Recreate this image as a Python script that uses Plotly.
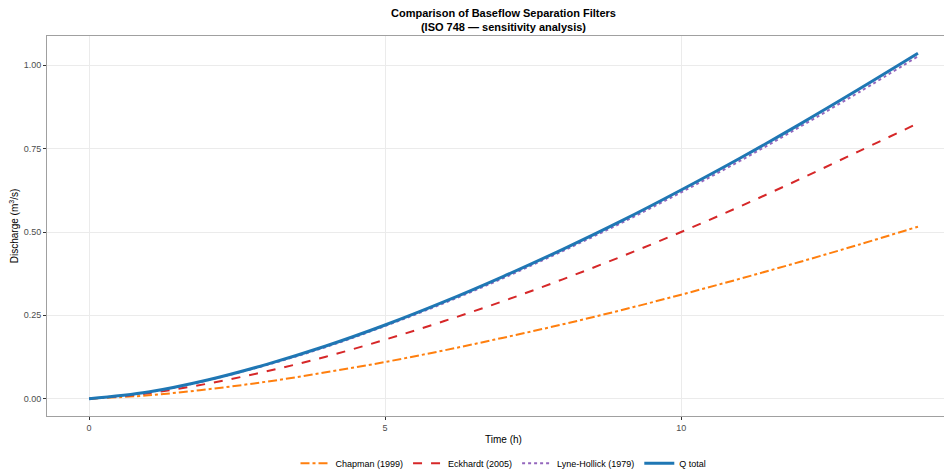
import plotly.graph_objects as go

time_h = [0, 1, 2, 3, 4, 5, 6, 7, 8, 9, 10, 11, 12, 13, 14]
q_total = [0.0, 0.020, 0.056, 0.103, 0.158, 0.221, 0.291, 0.367, 0.448, 0.534, 0.626, 0.722, 0.823, 0.928, 1.036]
chapman = [0.0, 0.010, 0.028, 0.051, 0.079, 0.110, 0.145, 0.183, 0.223, 0.266, 0.312, 0.360, 0.410, 0.462, 0.516]
eckhardt = [0.0, 0.016, 0.045, 0.082, 0.126, 0.177, 0.233, 0.293, 0.358, 0.427, 0.500, 0.577, 0.658, 0.742, 0.826]
lyne_hollick = [0.0, 0.019, 0.055, 0.101, 0.155, 0.218, 0.287, 0.362, 0.443, 0.528, 0.619, 0.714, 0.815, 0.919, 1.027]

x_ticks = [0, 5, 10]
y_ticks = [0.0, 0.25, 0.5, 0.75, 1.0]
y_tick_labels = ["0.00", "0.25", "0.50", "0.75", "1.00"]

fig = go.Figure()
fig.add_trace(go.Scatter(x=time_h, y=chapman, mode="lines", name="Chapman (1999)",
                         line=dict(color="#ff7f0e", width=2, dash="dashdot", shape="spline")))
fig.add_trace(go.Scatter(x=time_h, y=eckhardt, mode="lines", name="Eckhardt (2005)",
                         line=dict(color="#d62728", width=2, dash="dash", shape="spline")))
fig.add_trace(go.Scatter(x=time_h, y=lyne_hollick, mode="lines", name="Lyne-Hollick (1979)",
                         line=dict(color="#9467bd", width=2, dash="dot", shape="spline")))
fig.add_trace(go.Scatter(x=time_h, y=q_total, mode="lines", name="Q total",
                         line=dict(color="#1f77b4", width=3, shape="spline")))

fig.update_layout(
    width=952, height=470,
    margin=dict(l=39, r=0, t=28, b=62, autoexpand=False),
    paper_bgcolor="white", plot_bgcolor="white",
    font=dict(family="Liberation Sans, Arial, sans-serif", color="black", size=11),
    annotations=[dict(
        text="<b>Comparison of Baseflow Separation Filters<br>(ISO 748 — sensitivity analysis)</b>",
        xref="paper", yref="paper", x=0.5, y=1.0, xanchor="center", yanchor="bottom",
        yshift=1, showarrow=False, font=dict(size=11, color="black"))],
    showlegend=True,
    legend=dict(orientation="h", x=0.5, xanchor="center", y=-0.086, yanchor="top",
                font=dict(size=9, color="black"), itemwidth=30),
    xaxis=dict(range=[-0.71, 14.71], tickvals=x_ticks, showgrid=True, gridcolor="#ebebeb",
               zeroline=False, showline=True, linecolor="#a0a0a0", linewidth=1, mirror=True,
               ticks="outside", ticklen=3, tickcolor="#333333", automargin=False,
               tickfont=dict(size=9, color="#4d4d4d"),
               title=dict(text="Time (h)", font=dict(size=10), standoff=4)),
    yaxis=dict(range=[-0.052, 1.088], tickvals=y_ticks, ticktext=y_tick_labels, showgrid=True,
               gridcolor="#ebebeb", zeroline=False, showline=True, linecolor="#a0a0a0", linewidth=1,
               mirror=False, ticks="outside", ticklen=3, tickcolor="#333333", automargin=False,
               tickfont=dict(size=9, color="#4d4d4d"),
               title=dict(text="Discharge (m<sup>3</sup>/s)", font=dict(size=10), standoff=4)),
)

fig.write_html("out.html")
